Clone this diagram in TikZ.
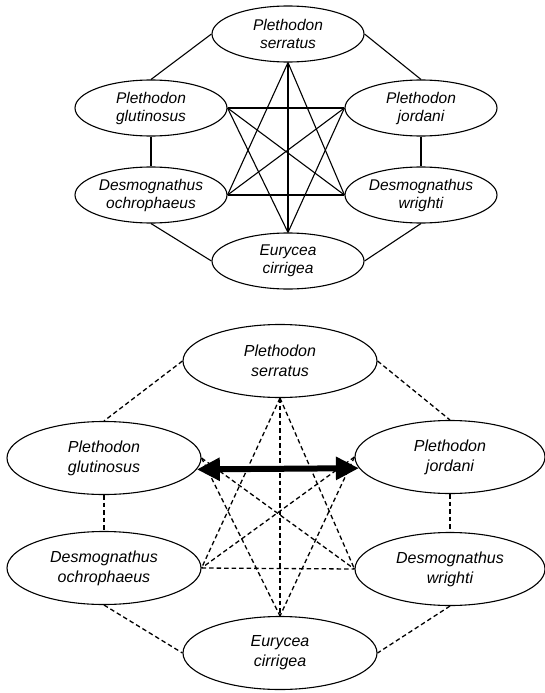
\documentclass[tikz,border=0pt]{standalone}
\usepackage{fontspec}
\setmainfont{Liberation Sans}
\usetikzlibrary{shapes.geometric,arrows.meta}
\begin{document}
\begin{tikzpicture}[x=1pt,y=-1pt,
  species/.style={ellipse,draw,line width=1.1pt,inner sep=0pt,align=center},
  smallsp/.style={species,minimum width=152pt,minimum height=56pt,
    font=\fontsize{15.5}{18}\selectfont\itshape},
  largesp/.style={species,minimum width=194pt,minimum height=73pt,
    font=\fontsize{16}{20}\selectfont\itshape},
  link/.style={line width=1.1pt},
  dlink/.style={line width=1.3pt,dash pattern=on 4.5pt off 3pt},
  bigarrow/.style={line width=6pt,
    {Triangle[length=23pt,width=22pt]}-{Triangle[length=23pt,width=22pt]}}
]
\useasboundingbox (0,0) rectangle (545,693);

% ---- upper network: all pairs joined by solid lines ----
\node[smallsp] (S1) at (288,34)  {Plethodon\\serratus};
\node[smallsp] (G1) at (151,108) {Plethodon\\glutinosus};
\node[smallsp] (J1) at (421,108) {Plethodon\\jordani};
\node[smallsp] (O1) at (151,195) {Desmognathus\\ochrophaeus};
\node[smallsp] (W1) at (421,195) {Desmognathus\\wrighti};
\node[smallsp] (E1) at (288,261) {Eurycea\\cirrigea};

\draw[link] (S1.west) -- (G1.north);
\draw[link] (S1.east) -- (J1.north);
\draw[link] (G1.south) -- (O1.north);
\draw[link] (J1.south) -- (W1.north);
\draw[link] (O1.south) -- (E1.west);
\draw[link] (W1.south) -- (E1.east);
\draw[link] (S1.south) -- (O1.east);
\draw[link] (S1.south) -- (W1.west);
\draw[link] (S1.south) -- (E1.north);
\draw[link] (G1.east) -- (J1.west);
\draw[link] (G1.east) -- (W1.west);
\draw[link] (G1.east) -- (E1.north);
\draw[link] (J1.west) -- (O1.east);
\draw[link] (J1.west) -- (E1.north);
\draw[link] (O1.east) -- (W1.west);

% ---- lower network: dashed links, one strong link ----
\node[largesp] (S2) at (280,361) {Plethodon\\serratus};
\node[largesp] (G2) at (104,458) {Plethodon\\glutinosus};
\node[largesp,minimum width=190pt] (J2) at (450,457) {Plethodon\\jordani};
\node[largesp] (O2) at (104,568) {Desmognathus\\ochrophaeus};
\node[largesp,minimum width=190pt] (W2) at (450,569) {Desmognathus\\wrighti};
\node[largesp] (E2) at (280,653) {Eurycea\\cirrigea};

\draw[dlink] (S2.west) -- (G2.north);
\draw[dlink] (S2.east) -- (J2.north);
\draw[dlink] (G2.south) -- (O2.north);
\draw[dlink] (J2.south) -- (W2.north);
\draw[dlink] (O2.south) -- (E2.west);
\draw[dlink] (W2.south) -- (E2.east);
\draw[dlink] (S2.south) -- (O2.east);
\draw[dlink] (S2.south) -- (W2.west);
\draw[dlink] (S2.south) -- (E2.north);
\draw[dlink] (G2.east) -- (W2.west);
\draw[dlink] (G2.east) -- (E2.north);
\draw[dlink] (J2.west) -- (O2.east);
\draw[dlink] (J2.west) -- (E2.north);
\draw[dlink] (O2.east) -- (W2.west);

\draw[bigarrow] (G2.-7) -- (J2.187);
\end{tikzpicture}
\end{document}
